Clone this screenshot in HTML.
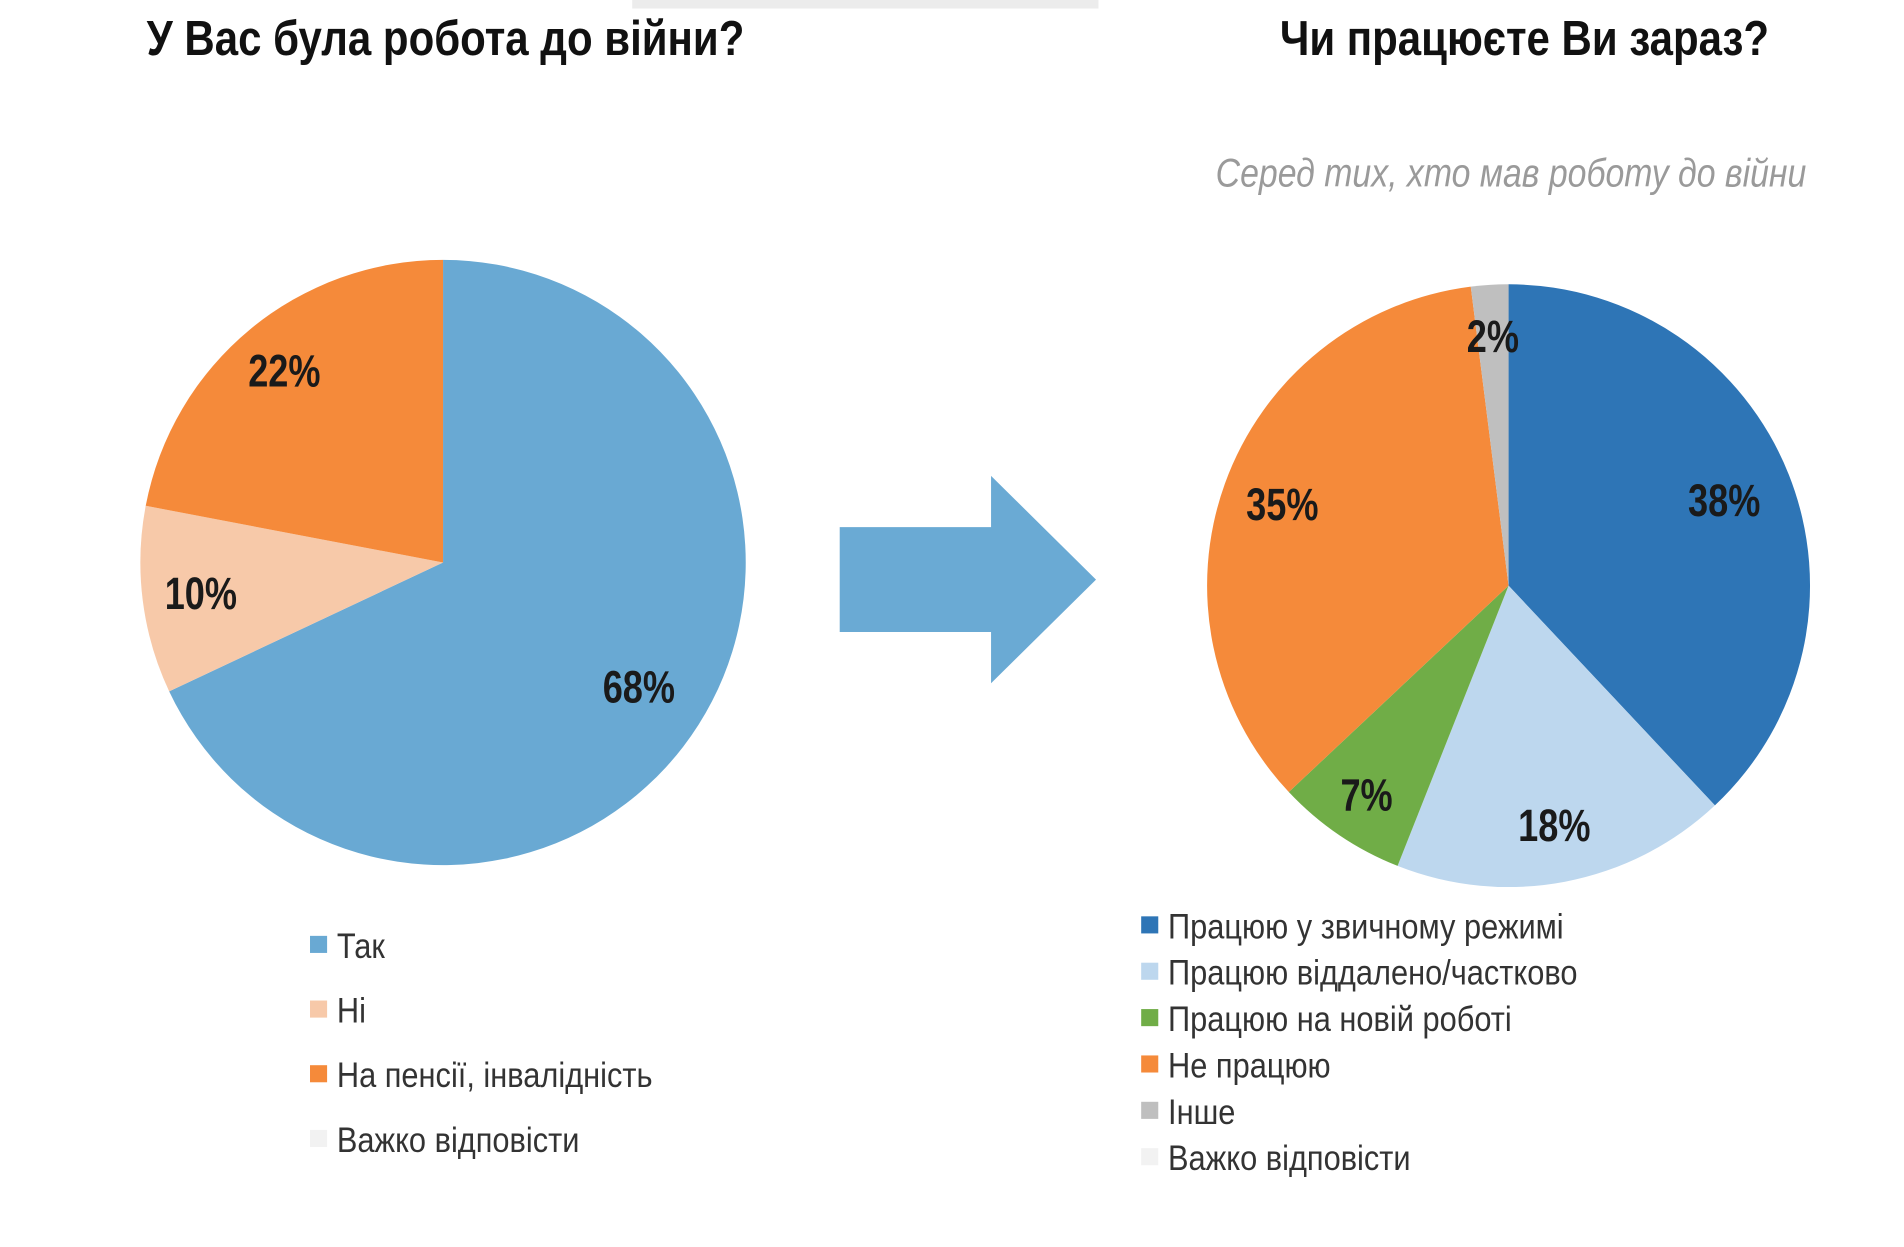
<!DOCTYPE html>
<html><head><meta charset="utf-8"><style>
html,body{margin:0;padding:0;background:#fff;}
svg{display:block;font-family:"Liberation Sans","DejaVu Sans",sans-serif;}
.t{font-weight:bold;font-size:40px;fill:#111;}
.lab{font-weight:bold;font-size:37px;fill:#1a1a1a;}
.leg{font-size:29px;fill:#333;}
</style></head><body>
<svg id="chart" width="1904" height="1247" viewBox="0 0 1560 1022" preserveAspectRatio="none">
<rect x="518" y="0" width="382" height="7" fill="#ececec"/>
<text class="t" transform="translate(365,45) scale(0.86,1)" text-anchor="middle">У Вас була робота до війни?</text>
<text class="t" transform="translate(1249,45) scale(0.86,1)" text-anchor="middle">Чи працюєте Ви зараз?</text>
<text transform="translate(1238,153) scale(0.84,1)" text-anchor="middle" font-style="italic" font-size="33" fill="#9a9a9a">Серед тих, хто мав роботу до війни</text>
<polygon points="688,432 812,432 812,390 898,475 812,560 812,518 688,518" fill="#6aaad4"/>
<g id="leftPie"></g>
<g id="rightPie"></g>
<g id="leftLegend"></g>
<g id="rightLegend"></g>
</svg>
<script>
const leftCats = ["Так","Ні","На пенсії, інвалідність","Важко відповісти"];
const leftVals = [68,10,22,0];
const leftColors = ["#69a9d3","#f7c9a9","#f58a3a","#f2f2f2"];
const rightCats = ["Працюю у звичному режимі","Працюю віддалено/частково","Працюю на новій роботі","Не працюю","Інше","Важко відповісти"];
const rightVals = [38,18,7,35,2,0];
const rightColors = ["#2e75b6","#bdd7ee","#70ad47","#f58a3a","#bfbfbf","#f2f2f2"];
const NS="http://www.w3.org/2000/svg";
function pie(g,vals,colors,cx,cy,r,labR,names){
  const tot=vals.reduce((a,b)=>a+b,0);let a0=0;
  vals.forEach((v,i)=>{
    if(v<=0)return;
    const a1=a0+v/tot*2*Math.PI;
    const p=(a)=>[cx+r*Math.sin(a),cy-r*Math.cos(a)];
    const [x0,y0]=p(a0),[x1,y1]=p(a1);
    const path=document.createElementNS(NS,"path");
    path.setAttribute("d",`M${cx},${cy}L${x0},${y0}A${r},${r} 0 ${a1-a0>Math.PI?1:0} 1 ${x1},${y1}Z`);
    path.setAttribute("fill",colors[i]);
    
    
    g.appendChild(path);
    const am=(a0+a1)/2, lr=labR[i];
    const t=document.createElementNS(NS,"text");
    t.setAttribute("class","lab");t.setAttribute("text-anchor","middle");
    t.setAttribute("transform",`translate(${cx+lr*Math.sin(am)},${cy-lr*Math.cos(am)+13}) scale(0.8,1)`);
    t.textContent=v+"%";
    
    
    g.appendChild(t);
    a0=a1;
  });
}
function legend(g,cats,colors,x,y0,dy,fs){
  cats.forEach((c,i)=>{
    const y=y0+i*dy;
    const r=document.createElementNS(NS,"rect");
    r.setAttribute("x",x);r.setAttribute("y",y-8);r.setAttribute("width",14);r.setAttribute("height",14);r.setAttribute("fill",colors[i]);
    
    
    g.appendChild(r);
    const t=document.createElementNS(NS,"text");
    t.setAttribute("class","leg");t.setAttribute("font-size",fs);
    t.setAttribute("transform",`translate(${x+22},${y+10}) scale(0.87,1)`);
    t.textContent=c;
    
    
    g.appendChild(t);
  });
}
pie(document.getElementById("leftPie"),leftVals,leftColors,363,461,248,[190,200,204,0],["tak","ni","pensiya","vazhko"]);
pie(document.getElementById("rightPie"),rightVals,rightColors,1236,480,247,[190,200,207,197,205,0],["zvychno","viddaleno","nova","ne-pratsyuyu","inshe","vazhko"]);
legend(document.getElementById("leftLegend"),leftCats,leftColors,254,775,53,29);
legend(document.getElementById("rightLegend"),rightCats,rightColors,935,759,38,29);
</script>
</body></html>
